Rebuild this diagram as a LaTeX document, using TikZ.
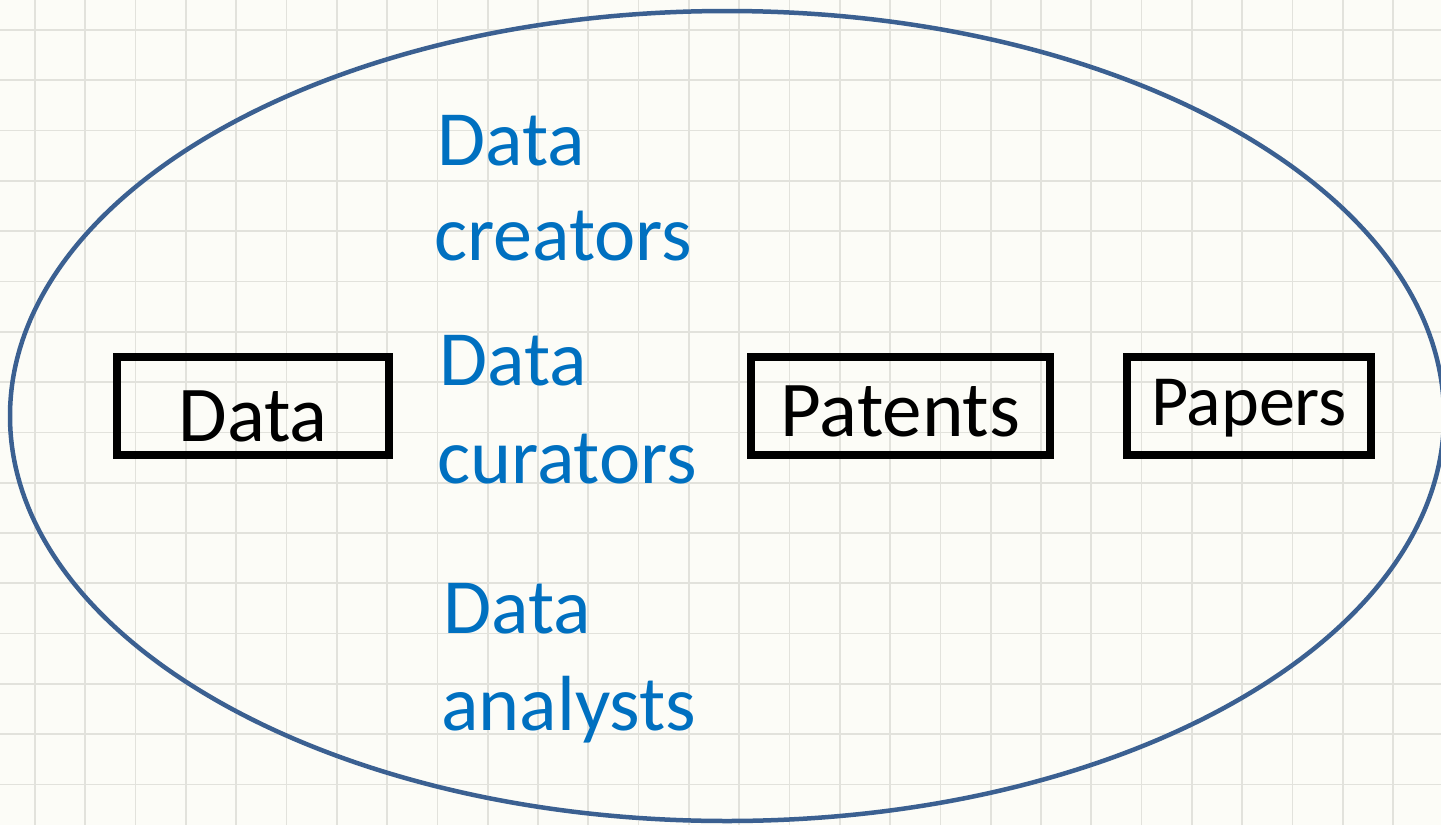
\documentclass[tikz,border=0pt]{standalone}
\usepackage{fontspec}
\setmainfont{Carlito}
\definecolor{ovalblue}{RGB}{59,96,145}
\definecolor{roleblue}{RGB}{0,112,192}
\definecolor{paper}{RGB}{252,252,247}
\definecolor{gridgray}{RGB}{226,226,220}
\begin{document}
\begin{tikzpicture}[x=0.02cm,y=-0.02cm,inner sep=0,
	box/.style={draw,rectangle,line width=0.16cm,minimum height=1.96cm,text depth=0pt,font=\fontsize{45}{52}\selectfont},
	role/.style={text=roleblue,anchor=base west,font=\fontsize{44.5}{54}\selectfont}]
		\clip (0,0) rectangle (1441,825);
		\fill[paper] (0,0) rectangle (1441,825);
		% grid of the page
		\foreach \k in {0,...,28} \draw[gridgray,line width=0.035cm] ({35+50.3*\k},0)--({35+50.3*\k},825);
		\foreach \k in {0,...,15} \draw[gridgray,line width=0.035cm] (0,{30+50.3*\k})--(1441,{30+50.3*\k});
		\draw[ovalblue,line width=0.09cm] (727,416) ellipse [x radius=717, y radius=405];
		\node[box,minimum width=5.44cm,text height=1.44cm] (data) at (253,406) {Data};
		\node[box,minimum width=5.98cm,text height=1.24cm] (patents) at (900.5,406) {Patents};
		\node[box,minimum width=4.88cm,text height=0.76cm,font=\fontsize{41}{48}\selectfont] (papers) at (1249,406) {Papers};
		\node[role] (crea1) at (437,165) {Data};
		\node[role] (crea2) at (434,260) {creators};
		\node[role] (cura1) at (439,385) {Data};
		\node[role] (cura2) at (437,483) {curators};
		\node[role] (anal1) at (443,633) {Data};
		\node[role] (anal2) at (441,730) {analysts};
		% \draw (data)--(patents);
	\end{tikzpicture}
\end{document}
